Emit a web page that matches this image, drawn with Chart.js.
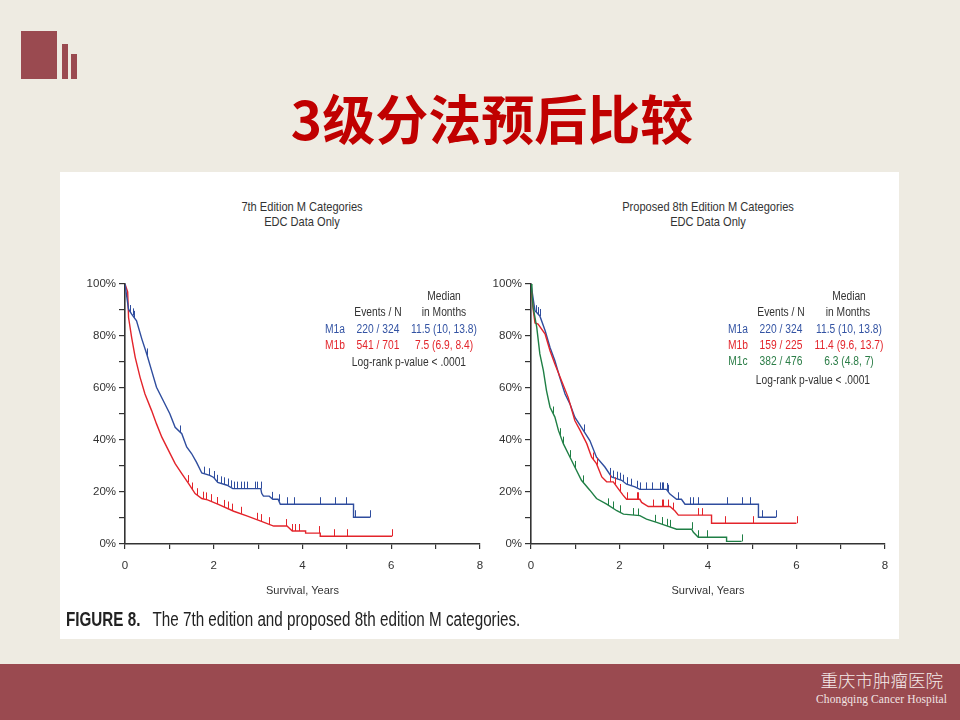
<!DOCTYPE html>
<html>
<head>
<meta charset="utf-8">
<script src="https://cdn.jsdelivr.net/npm/chart.js@4.4.1/dist/chart.umd.min.js"></script>
<style>
  html, body { margin: 0; padding: 0; }
  body { width: 960px; height: 720px; position: relative; overflow: hidden; background: #eeebe2; }
  .blk { position: absolute; background: #9a4a50; }
  #title { position: absolute; left: 0; width: 984px; top: 84px; text-align: center; font: 700 53px 'Noto Sans CJK SC', sans-serif; line-height: 66px; color: #c00000; }
  #panel { position: absolute; left: 60px; top: 172px; width: 839px; height: 467px; background: #fff; }
  canvas { position: absolute; }
  .t { position: absolute; width: 120px; text-align: center; line-height: 16px; font: 12.5px 'Liberation Sans', sans-serif; color: #333; white-space: nowrap; transform: scaleX(0.82); }
  .ct { position: absolute; width: 240px; text-align: center; line-height: 18px; font: 13.5px 'Liberation Sans', sans-serif; color: #333; transform: scaleX(0.82); }
  .b { color: #3353a3; } .r { color: #e3262c; } .g { color: #2b7d47; }
  #caption { position: absolute; left: 66px; top: 608px; font: 20px 'Liberation Sans', sans-serif; color: #222; white-space: nowrap; transform-origin: 0 50%; }
  #caption b { font-weight: 700; margin-right: 16px; }
  #footer { position: absolute; left: 0; top: 664px; width: 960px; height: 56px; background: #9a4a50; }
  #hosp { position: absolute; right: 17px; top: 668px; font: 300 17.5px 'Noto Sans CJK SC', sans-serif; color: #f4eaea; line-height: 24px; }
  #hospEn { position: absolute; right: 13px; top: 691px; font: 11.5px 'Liberation Serif', serif; color: #f1e4e4; line-height: 16px; letter-spacing: 0.1px; }
</style>
</head>
<body>
<div class="blk" style="left:21px;top:31px;width:36px;height:48px"></div>
<div class="blk" style="left:62px;top:44px;width:6px;height:35px"></div>
<div class="blk" style="left:71px;top:54px;width:6px;height:25px"></div>
<div id="title">3级分法预后比较</div>
<div id="panel"></div>

<div class="ct" style="left:182px;top:199px">7th Edition M Categories<br>EDC Data Only</div>
<div class="ct" style="left:588px;top:199px">Proposed 8th Edition M Categories<br>EDC Data Only</div>

<canvas id="left" width="440" height="360" style="left:60px;top:250px"></canvas>
<canvas id="right" width="420" height="360" style="left:480px;top:250px"></canvas>

<!-- 7th edition legend -->
<div class="t" style="left:384px;top:289px">Median</div>
<div class="t" style="left:318px;top:305px">Events / N</div>
<div class="t" style="left:384px;top:305px">in Months</div>
<div class="t b" style="left:275px;top:322px">M1a</div>
<div class="t b" style="left:318px;top:322px">220 / 324</div>
<div class="t b" style="left:384px;top:322px">11.5 (10, 13.8)</div>
<div class="t r" style="left:275px;top:338px">M1b</div>
<div class="t r" style="left:318px;top:338px">541 / 701</div>
<div class="t r" style="left:384px;top:338px">7.5 (6.9, 8.4)</div>
<div class="t" style="left:341px;top:355px">Log-rank p-value &lt; .0001</div>

<!-- proposed 8th edition legend -->
<div class="t" style="left:789px;top:289px">Median</div>
<div class="t" style="left:721px;top:305px">Events / N</div>
<div class="t" style="left:788px;top:305px">in Months</div>
<div class="t b" style="left:678px;top:322px">M1a</div>
<div class="t b" style="left:721px;top:322px">220 / 324</div>
<div class="t b" style="left:789px;top:322px">11.5 (10, 13.8)</div>
<div class="t r" style="left:678px;top:338px">M1b</div>
<div class="t r" style="left:721px;top:338px">159 / 225</div>
<div class="t r" style="left:789px;top:338px">11.4 (9.6, 13.7)</div>
<div class="t g" style="left:678px;top:354px">M1c</div>
<div class="t g" style="left:721px;top:354px">382 / 476</div>
<div class="t g" style="left:789px;top:354px">6.3 (4.8, 7)</div>
<div class="t" style="left:745px;top:373px">Log-rank p-value &lt; .0001</div>

<div id="caption"><b>FIGURE 8.</b>The 7th edition and proposed 8th edition M categories.</div>

<div id="footer"></div>
<div id="hosp">重庆市肿瘤医院</div>
<div id="hospEn">Chongqing Cancer Hospital</div>

<script>
// axis labels
const yearTicks = [0, 2, 4, 6, 8];
const pctTicks = [0, 20, 40, 60, 80, 100];

// 7th edition, M1a
const m1a7Years = [0, 0.08, 0.15, 0.26, 0.38, 0.49, 0.6, 0.71, 0.86, 1.01, 1.13, 1.28, 1.39, 1.5, 1.61, 1.73, 1.91, 2.0, 2.09, 2.3, 2.43, 3.06, 3.08, 3.12, 3.25, 3.33, 3.45, 3.5, 5.15, 5.15, 5.53];
const m1a7Surv  = [100, 90.3, 88.4, 85.8, 78.8, 73.1, 66.7, 60.3, 55.2, 50.1, 44.9, 42.4, 37.3, 34.8, 31.5, 27.3, 26.4, 25.6, 23.7, 22.6, 21.3, 21.3, 19.5, 18.4, 18.4, 17.2, 17.2, 15.3, 15.3, 10.3, 10.3];
const m1a7Censor = [0.12, 0.17, 0.21, 0.5, 1.25, 1.78, 1.9, 2.01, 2.08, 2.16, 2.23, 2.31, 2.38, 2.46, 2.53, 2.61, 2.68, 2.76, 2.94, 2.98, 3.06, 3.32, 3.47, 3.66, 3.81, 4.4, 4.74, 4.97, 5.19, 5.53];

// 7th edition, M1b
const m1b7Years = [0, 0.06, 0.08, 0.15, 0.23, 0.34, 0.45, 0.6, 0.71, 0.83, 0.98, 1.13, 1.28, 1.43, 1.58, 1.73, 1.86, 2.09, 2.45, 2.76, 3.06, 3.35, 3.65, 3.77, 4.07, 4.07, 4.4, 4.4, 6.02];
const m1b7Surv  = [100, 97, 87.1, 79.4, 71.8, 64.1, 57.7, 51.3, 46.2, 41.1, 36.0, 30.9, 27.1, 23.3, 19.4, 17.5, 17.0, 15.3, 12.6, 10.7, 8.8, 6.9, 6.9, 5.0, 5.0, 4.2, 4.2, 3.0, 3.0];
const m1b7Censor = [1.41, 1.52, 1.63, 1.75, 1.82, 1.93, 2.08, 2.23, 2.31, 2.42, 2.61, 2.98, 3.06, 3.24, 3.62, 3.77, 3.84, 3.92, 4.37, 4.7, 5.0, 6.02];

// proposed 8th edition, M1a
const m1a8Years = [0, 0.09, 0.2, 0.32, 0.43, 0.54, 0.65, 0.77, 0.88, 0.99, 1.14, 1.33, 1.48, 1.67, 1.82, 2.05, 2.16, 2.35, 2.46, 3.06, 3.14, 3.29, 3.4, 3.48, 5.14, 5.14, 5.54];
const m1a8Surv  = [100, 89.7, 87.7, 82, 75.6, 70.5, 64.1, 57.7, 53.9, 48.8, 44.9, 39.8, 33.4, 29.6, 25.8, 24.5, 23, 22, 21, 21, 19.2, 17.2, 17.2, 15.3, 15.3, 10.3, 10.3];
const m1a8Censor = [0.12, 0.16, 0.2, 1.2, 1.79, 1.86, 1.94, 2.01, 2.09, 2.16, 2.27, 2.39, 2.46, 2.61, 2.73, 2.92, 2.95, 2.99, 3.07, 3.1, 3.33, 3.59, 3.67, 3.78, 4.42, 4.76, 4.95, 5.21, 5.54];

// proposed 8th edition, M1b
const m1b8Years = [0, 0.05, 0.09, 0.16, 0.32, 0.43, 0.54, 0.69, 0.84, 0.99, 1.11, 1.26, 1.37, 1.48, 1.6, 1.71, 1.86, 1.97, 2.08, 2.16, 2.46, 2.5, 2.65, 3.14, 3.25, 3.33, 4.08, 4.08, 6.0];
const m1b8Surv  = [100, 90, 85, 84.6, 80.7, 74.3, 69.2, 62.8, 56.4, 47.5, 43.7, 38.6, 33.4, 30.9, 25.8, 23.9, 23.9, 21.3, 18.8, 17.2, 17.2, 16, 14.4, 14.4, 12.8, 11.1, 11.1, 8.0, 8.0];
const m1b8Censor = [1.41, 1.49, 1.79, 1.9, 2.01, 2.16, 2.39, 2.42, 2.76, 2.95, 2.99, 3.1, 3.22, 3.78, 3.86, 4.38, 5.02, 6.0];

// proposed 8th edition, M1c
const m1c8Years = [0, 0.02, 0.05, 0.13, 0.2, 0.28, 0.35, 0.43, 0.54, 0.62, 0.73, 0.84, 0.99, 1.14, 1.33, 1.48, 1.71, 1.94, 2.09, 2.46, 2.61, 2.84, 3.07, 3.29, 3.63, 3.67, 3.78, 4.42, 4.42, 4.76];
const m1c8Surv  = [100, 96.5, 90.9, 83.3, 73.1, 66.7, 59, 52.6, 48.8, 43.7, 38.6, 34.8, 29.6, 24.5, 20.7, 17.5, 15.3, 12.8, 11.5, 10.9, 9.6, 8.3, 7.0, 5.7, 5.7, 4.5, 2.6, 2.6, 1.0, 1.0];
const m1c8Censor = [0.5, 0.66, 0.73, 0.88, 1.0, 1.18, 1.75, 1.86, 2.01, 2.31, 2.42, 2.8, 2.95, 3.07, 3.14, 3.63, 3.78, 3.97, 4.76];

const BLUE = '#2f4d9e', RED = '#e3242b', GREEN = '#1f7f45';
const FONT = "'Liberation Sans', sans-serif";

function pts(xs, ys) { return xs.map((x, i) => ({ x, y: ys[i] })); }

function survAt(data, t) {
  for (let i = 0; i < data.length - 1; i++) {
    const a = data[i], b = data[i + 1];
    if (t >= a.x && t <= b.x) {
      if (b.x === a.x) return b.y;
      return a.y + (b.y - a.y) * (t - a.x) / (b.x - a.x);
    }
  }
  return data[data.length - 1].y;
}

// small upward ticks for censored patients
const censorMarks = {
  id: 'censorMarks',
  afterDatasetsDraw(chart) {
    const { ctx, scales: { x, y } } = chart;
    ctx.save();
    chart.data.datasets.forEach(ds => {
      if (!ds.censor) return;
      ctx.strokeStyle = ds.borderColor;
      ctx.lineWidth = 1;
      ctx.beginPath();
      ds.censor.forEach(t => {
        const px = Math.round(x.getPixelForValue(t)) + 0.5;
        const py = y.getPixelForValue(survAt(ds.data, t));
        ctx.moveTo(px, py);
        ctx.lineTo(px, py - 7);
      });
      ctx.stroke();
    });
    ctx.restore();
  }
};

function kmChart(id, series, axisWidth, rightPad) {
  return new Chart(document.getElementById(id), {
    type: 'line',
    data: {
      datasets: series.map(s => ({
        data: pts(s.years, s.surv),
        censor: s.censor,
        borderColor: s.color,
        borderWidth: 1.4,
        pointRadius: 0,
        tension: 0,
        fill: false
      }))
    },
    options: {
      responsive: false,
      animation: false,
      layout: { padding: { top: 34, right: rightPad, bottom: 0, left: 0 } },
      plugins: { legend: { display: false }, tooltip: { enabled: false } },
      scales: {
        x: {
          type: 'linear', min: 0, max: 8,
          ticks: {
            stepSize: 1, autoSkip: false, maxRotation: 0, padding: 10, color: '#333',
            font: { family: FONT, size: 11.5 },
            callback: v => yearTicks.includes(v) ? String(v) : ''
          },
          grid: { drawOnChartArea: false, tickLength: 5, color: '#333', lineWidth: 1.2 },
          border: { color: '#333', width: 1.6 },
          title: { display: true, text: 'Survival, Years', color: '#333', font: { family: FONT, size: 11 }, padding: { top: 0, bottom: 12 } },
          afterFit: s => { s.height = 66; }
        },
        y: {
          min: 0, max: 100,
          ticks: {
            stepSize: 10, autoSkip: false, padding: 3, color: '#333',
            font: { family: FONT, size: 11.5 },
            callback: v => pctTicks.includes(v) ? v + '%' : ''
          },
          grid: { drawOnChartArea: false, tickLength: 6, color: '#333', lineWidth: 1.2 },
          border: { color: '#333', width: 1.6 },
          afterFit: s => { s.width = axisWidth; }
        }
      }
    },
    plugins: [censorMarks]
  });
}

kmChart('left', [
  { years: m1a7Years, surv: m1a7Surv, censor: m1a7Censor, color: BLUE },
  { years: m1b7Years, surv: m1b7Surv, censor: m1b7Censor, color: RED }
], 65, 20);

kmChart('right', [
  { years: m1c8Years, surv: m1c8Surv, censor: m1c8Censor, color: GREEN },
  { years: m1b8Years, surv: m1b8Surv, censor: m1b8Censor, color: RED },
  { years: m1a8Years, surv: m1a8Surv, censor: m1a8Censor, color: BLUE }
], 51, 15);

// fit caption to the width it has in the figure
const cap = document.getElementById('caption');
cap.style.transform = 'scaleX(' + (454 / cap.scrollWidth) + ')';
</script>
</body>
</html>
